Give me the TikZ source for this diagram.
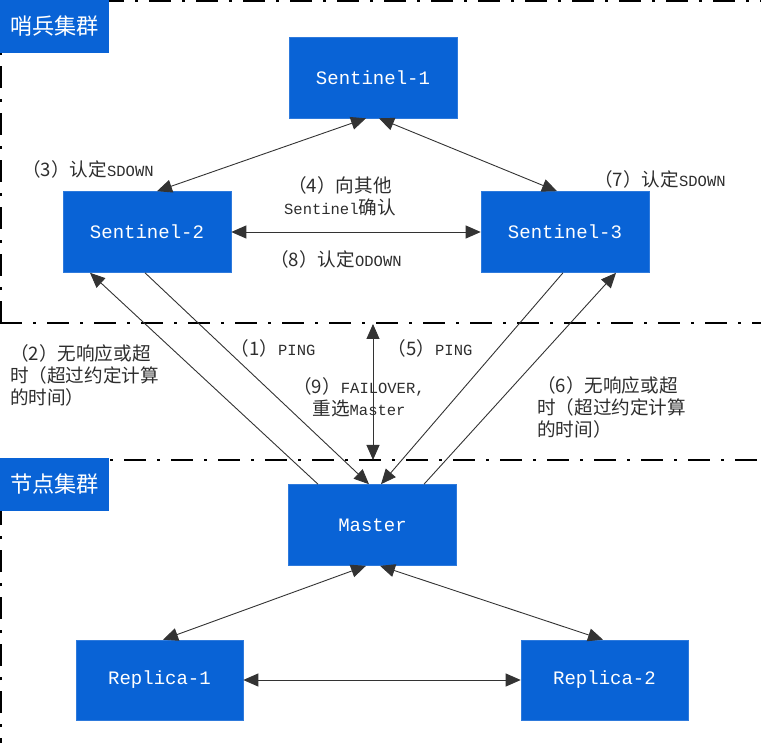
\documentclass[tikz,border=0pt]{standalone}
\usepackage{fontspec}
\setmainfont{Liberation Mono}
\newfontfamily\cjk[Scale=1.2]{Noto Sans CJK SC}
\usetikzlibrary{arrows.meta}
\definecolor{boxblue}{RGB}{9,99,214}
\definecolor{txtgray}{RGB}{45,45,45}
\begin{document}
\begin{tikzpicture}[x=1pt,y=-1pt,
  sbox/.style={fill=boxblue, draw=boxblue!85!white, line width=0.6pt, minimum width=168pt, minimum height=81pt, inner sep=0pt, text=white, font=\fontsize{19}{22}\selectfont},
  gbox/.style={fill=boxblue, inner sep=0pt, minimum width=109pt, minimum height=53pt, text=white, font=\fontsize{18.5}{22}\selectfont\cjk},
  lbl/.style={text=txtgray, inner sep=0pt, font=\fontsize{15.5}{22}\selectfont},
  conn/.style={draw=black!80, line width=0.9pt},
  dbl/.style={conn, {Triangle[length=15pt,width=13pt]}-{Triangle[length=15pt,width=13pt]}},
  one/.style={conn, -{Triangle[length=15pt,width=13pt]}},
  grp/.style={line width=2pt, dash pattern=on 22pt off 11pt on 3pt off 11pt}
]
\useasboundingbox (0,0) rectangle (761,743);
% group frames
\draw[grp] (1,323) -- (1,1) -- (770,1);
\draw[grp] (0,323) -- (770,323);
\draw[grp] (1,760) -- (1,460) -- (770,460);
% group labels
\node[gbox] (g1) at (54.5,26.5) {哨兵集群};
\node[gbox] (g2) at (54.5,484.5) {节点集群};
% nodes
\node[sbox] (s1) at (373,77.5) {Sentinel-1};
\node[sbox] (s2) at (147,232) {Sentinel-2};
\node[sbox] (s3) at (565,232) {Sentinel-3};
\node[sbox] (m) at (372.5,525) {Master};
\node[sbox, minimum width=167pt, minimum height=80pt] (r1) at (159.5,680) {Replica-1};
\node[sbox, minimum width=167pt, minimum height=80pt] (r2) at (604.5,680) {Replica-2};
\coordinate (f1) at (373,324);
\coordinate (f2) at (373,460);
% connectors
\draw[dbl] ([xshift=-7pt]s1.south) -- ([xshift=10pt]s2.north);
\draw[dbl] ([xshift=6pt]s1.south) -- ([xshift=-8pt]s3.north);
\draw[dbl] (s2.east) -- (s3.west);
\draw[one] ([xshift=-54.5pt]m.north) -- ([xshift=-57pt]s2.south);
\draw[one] ([xshift=-2pt]s2.south) -- ([xshift=-3.5pt]m.north);
\draw[one] ([xshift=-2pt]s3.south) -- ([xshift=8.5pt]m.north);
\draw[one] ([xshift=51.5pt]m.north) -- ([xshift=51pt]s3.south);
\draw[dbl] (f1) -- (f2);
\draw[dbl] ([xshift=-6.5pt]m.south) -- ([xshift=3.5pt]r1.north);
\draw[dbl] ([xshift=7.5pt]m.south) -- ([xshift=-1.5pt]r2.north);
\draw[dbl] (r1.east) -- (r2.west);
% labels
\node[lbl] (l3) at (88,169) {{\cjk （3）认定}SDOWN};
\node[lbl, align=center] (l4) at (340,196) {{\cjk （4）向其他}\\Sentinel{\cjk 确认}};
\node[lbl] (l8) at (336,259) {{\cjk （8）认定}ODOWN};
\node[lbl] (l7) at (660,179) {{\cjk （7）认定}SDOWN};
\node[lbl, align=left, anchor=west] (l2) at (10,375) {{\cjk （2）无响应或超}\\{\cjk 时（超过约定计算}\\{\cjk 的时间）}};
\node[lbl] (l1) at (273,348) {{\cjk （1）}PING};
\node[lbl] (l5) at (430,348) {{\cjk （5）}PING};
\node[lbl, align=center] (l9) at (359,397.5) {{\cjk （9）}FAILOVER,\\{\cjk 重选}Master};
\node[lbl, align=left, anchor=west] (l6) at (537,407) {{\cjk （6）无响应或超}\\{\cjk 时（超过约定计算}\\{\cjk 的时间）}};
\end{tikzpicture}
\end{document}
